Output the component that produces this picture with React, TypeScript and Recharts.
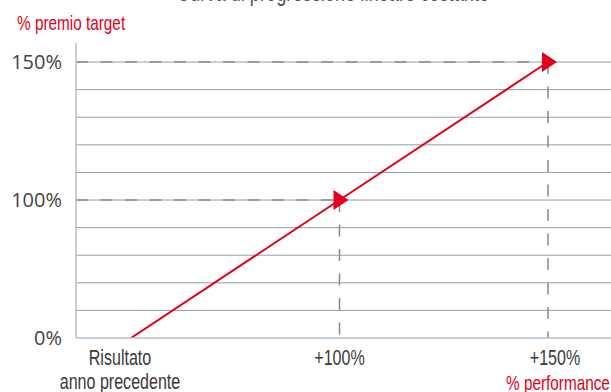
import { ComposedChart, Customized, Line, ReferenceLine, XAxis, YAxis } from 'recharts'

// schematic axes: x 0 = prior-year result, 1 = +100%, 2 = +150%; y 10 = 150% premio
const xKeys = [0, 1, 2]
const xTickLabels = [['Risultato', 'anno precedente'], ['+100%'], ['+150%']]
const premio = [0, 5, 10]
const yTicks = [0, 5, 10]
const yTickLabels = ['0%', '100%', '150%']
const gridValues = [1, 2, 3, 4, 5, 6, 7, 8, 9, 10]
const arrowKeys = [1, 2]

const xDomain = [-0.2638, 2.3022]
const yDomain = [0, 10.69]
const tickShift = [-11, 0, 7]

const RED = '#e2001a'

// no narrow font installed, so squeeze Liberation Sans
function Narrow({ x, y, size, fill, anchor = 'start', children }: any) {
  return (
    <g transform={`translate(${x},${y}) scale(0.73,1)`}>
      <text x={0} y={0} textAnchor={anchor} fill={fill} fontSize={size} fontFamily="'Liberation Sans', Arial, sans-serif">
        {children}
      </text>
    </g>
  )
}

const data = xKeys.map((x, i) => ({ x, y: premio[i] }))

function XTick(props: any) {
  const { x, y, payload } = props
  const idx = xKeys.indexOf(payload.value)
  const lines = xTickLabels[idx] || []
  return (
    <g>
      {lines.map((t, i) => (
        <Narrow key={t} x={x + (tickShift[idx] || 0)} y={y + 27 + i * 24} size={22} fill='#3a3a3a' anchor='middle'>
          {t}
        </Narrow>
      ))}
    </g>
  )
}

function ArrowDot(props: any) {
  const { cx, cy, payload, index } = props
  if (!arrowKeys.includes(payload.x)) return <g key={'d' + index} />
  return <path key={'d' + index} d={`M${cx - 6},${cy - 10} L${cx + 9},${cy} L${cx - 6},${cy + 10} Z`} fill={RED} />
}

function Labels() {
  return (
    <g>
      <Narrow x={333} y={1} size={25} fill='#555' anchor='middle'>
        Curva di progressione lineare costante
      </Narrow>
      <Narrow x={17} y={30} size={21} fill={RED}>
        % premio target
      </Narrow>
      <Narrow x={506} y={390} size={21} fill={RED}>
        % performance
      </Narrow>
    </g>
  )
}

export default function App() {
  return (
    <div style={{ position: 'absolute', left: 0, top: 0, background: '#fff' }}>
      <ComposedChart width={611} height={392} data={data} margin={{ top: 43, right: 0, bottom: 0, left: 0 }}>
        <XAxis
          dataKey='x'
          type='number'
          domain={xDomain}
          ticks={xKeys}
          height={54}
          tickSize={0}
          tickMargin={0}
          tick={<XTick />}
          axisLine={{ stroke: '#b4c0ca', strokeWidth: 1.5 }}
          allowDataOverflow
        />
        <YAxis
          type='number'
          domain={yDomain}
          ticks={yTicks}
          width={76}
          tickSize={0}
          tickMargin={14}
          tickFormatter={(v) => yTickLabels[yTicks.indexOf(v)]}
          tick={{ fill: '#444', fontSize: 20, fontFamily: "'Open Sans', sans-serif" }}
          axisLine={{ stroke: '#b4c0ca', strokeWidth: 1.5 }}
          allowDataOverflow
        />
        {gridValues.map((v) => (
          <ReferenceLine key={'g' + v} y={v} stroke='#8f9fad' strokeWidth={1} />
        ))}
        {arrowKeys.map((k) => {
          const y = premio[xKeys.indexOf(k)]
          return (
            <ReferenceLine
              key={'h' + k}
              segment={[{ x: xDomain[0], y }, { x: k, y }]}
              stroke='#8a8a8a'
              strokeWidth={1.5}
              strokeDasharray='12 12.5'
            />
          )
        })}
        {arrowKeys.map((k) => {
          const y = premio[xKeys.indexOf(k)]
          return (
            <ReferenceLine
              key={'v' + k}
              segment={[{ x: k, y }, { x: k, y: 0 }]}
              stroke='#8a8a8a'
              strokeWidth={1.5}
              strokeDasharray='12 12.5'
            />
          )
        })}
        <Line
          type='linear'
          dataKey='y'
          stroke={RED}
          strokeWidth={2}
          dot={ArrowDot}
          activeDot={false}
          isAnimationActive={false}
        />
        <Customized component={Labels} />
      </ComposedChart>
    </div>
  )
}
